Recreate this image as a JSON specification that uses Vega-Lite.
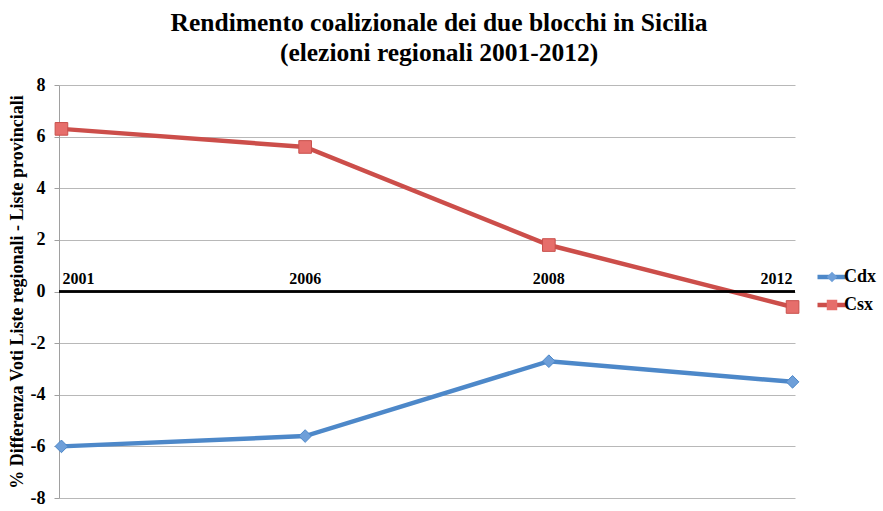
{
  "$schema": "https://vega.github.io/schema/vega-lite/v6.json",
  "autosize": {"type": "none"},
  "width": 736,
  "height": 413,
  "padding": {"left": 59, "top": 85, "right": 88, "bottom": 13},
  "background": "white",
  "title": {
    "text": ["Rendimento coalizionale dei due blocchi in Sicilia", "(elezioni regionali 2001-2012)"],
    "font": "Liberation Serif",
    "fontSize": 25.5,
    "fontWeight": "bold",
    "color": "black",
    "anchor": "middle",
    "frame": "group",
    "offset": 10,
    "dx": 12,
    "lineHeight": 30
  },
  "config": {"view": {"stroke": null}, "font": "Liberation Serif"},
  "data": {
    "values": [
      {"anno": "2001", "serie": "Cdx", "valore": -6.0},
      {"anno": "2006", "serie": "Cdx", "valore": -5.6},
      {"anno": "2008", "serie": "Cdx", "valore": -2.7},
      {"anno": "2012", "serie": "Cdx", "valore": -3.5},
      {"anno": "2001", "serie": "Csx", "valore": 6.3},
      {"anno": "2006", "serie": "Csx", "valore": 5.6},
      {"anno": "2008", "serie": "Csx", "valore": 1.8},
      {"anno": "2012", "serie": "Csx", "valore": -0.6}
    ]
  },
  "layer": [
    {
      "mark": {"type": "line", "strokeWidth": 4.5},
      "encoding": {
        "x": {"field": "anno", "type": "ordinal", "scale": {"type": "point", "padding": 0.01}, "axis": null},
        "y": {
          "field": "valore", "type": "quantitative",
          "scale": {"domain": [-8, 8], "nice": false},
          "axis": {
            "values": [-8, -6, -4, -2, 0, 2, 4, 6, 8],
            "labelExpr": "replace(datum.label, '−', '-')",
            "grid": true, "gridColor": "#b8b8b8", "gridWidth": 1,
            "domainColor": "#a0a0a0", "tickColor": "#a0a0a0", "tickSize": 5,
            "labelFont": "Liberation Serif", "labelFontSize": 18, "labelFontWeight": "bold", "labelColor": "black", "labelPadding": 9,
            "title": "% Differenza Voti Liste regionali - Liste provinciali",
            "titleFont": "Liberation Serif", "titleFontSize": 18, "titleFontWeight": "bold", "titleColor": "black", "titlePadding": 4
          }
        },
        "stroke": {
          "field": "serie", "type": "nominal",
          "scale": {"range": ["#4d88c9", "#cc4e4a"]},
          "legend": {
            "title": null, "orient": "none", "legendX": 756, "legendY": 178,
            "symbolType": "stroke", "symbolSize": 784, "symbolStrokeWidth": 4.5,
            "labelFont": "Liberation Serif", "labelFontSize": 18, "labelFontWeight": "bold", "labelColor": "black",
            "labelOffset": -4, "rowPadding": 0, "padding": 0, "clipHeight": 28
          }
        }
      }
    },
    {
      "mark": {"type": "rule", "color": "black", "strokeWidth": 1.5},
      "encoding": {"y": {"datum": 0, "type": "quantitative"}}
    },
    {
      "mark": {"type": "point", "filled": true, "size": 160, "strokeWidth": 1, "opacity": 1},
      "encoding": {
        "x": {"field": "anno", "type": "ordinal"},
        "y": {"field": "valore", "type": "quantitative"},
        "shape": {
          "field": "serie", "type": "nominal",
          "scale": {"domain": ["Cdx", "Csx"], "range": ["diamond", "square"]},
          "legend": {
            "title": null, "orient": "none", "legendX": 764, "legendY": 178,
            "symbolSize": 110, "symbolStrokeWidth": 0, "labelExpr": "''",
            "labelFontSize": 18, "rowPadding": 0, "padding": 0, "clipHeight": 28
          }
        },
        "fill": {
          "field": "serie", "type": "nominal",
          "scale": {"domain": ["Cdx", "Csx"], "range": ["#6e9fd9", "#e66e6b"]},
          "legend": {
            "title": null, "orient": "none", "legendX": 764, "legendY": 178,
            "symbolSize": 110, "symbolStrokeWidth": 0, "labelExpr": "''",
            "labelFontSize": 18, "rowPadding": 0, "padding": 0, "clipHeight": 28
          }
        },
        "stroke": {"condition": {"test": "datum.serie === 'Cdx'", "value": "#4d88c9"}, "value": "#c9504c"}
      }
    },
    {
      "transform": [{"filter": "datum.serie === 'Cdx' && datum.anno === '2001'"}],
      "mark": {"type": "text", "align": "left", "baseline": "alphabetic", "dy": -8, "dx": 1, "font": "Liberation Serif", "fontSize": 16, "fontWeight": "bold", "color": "black"},
      "encoding": {"x": {"field": "anno", "type": "ordinal"}, "y": {"datum": 0, "type": "quantitative"}, "text": {"field": "anno"}}
    },
    {
      "transform": [{"filter": "datum.serie === 'Cdx' && (datum.anno === '2006' || datum.anno === '2008')"}],
      "mark": {"type": "text", "align": "center", "baseline": "alphabetic", "dy": -8, "font": "Liberation Serif", "fontSize": 16, "fontWeight": "bold", "color": "black"},
      "encoding": {"x": {"field": "anno", "type": "ordinal"}, "y": {"datum": 0, "type": "quantitative"}, "text": {"field": "anno"}}
    },
    {
      "transform": [{"filter": "datum.serie === 'Cdx' && datum.anno === '2012'"}],
      "mark": {"type": "text", "align": "right", "baseline": "alphabetic", "dy": -8, "font": "Liberation Serif", "fontSize": 16, "fontWeight": "bold", "color": "black"},
      "encoding": {"x": {"field": "anno", "type": "ordinal"}, "y": {"datum": 0, "type": "quantitative"}, "text": {"field": "anno"}}
    }
  ]
}
